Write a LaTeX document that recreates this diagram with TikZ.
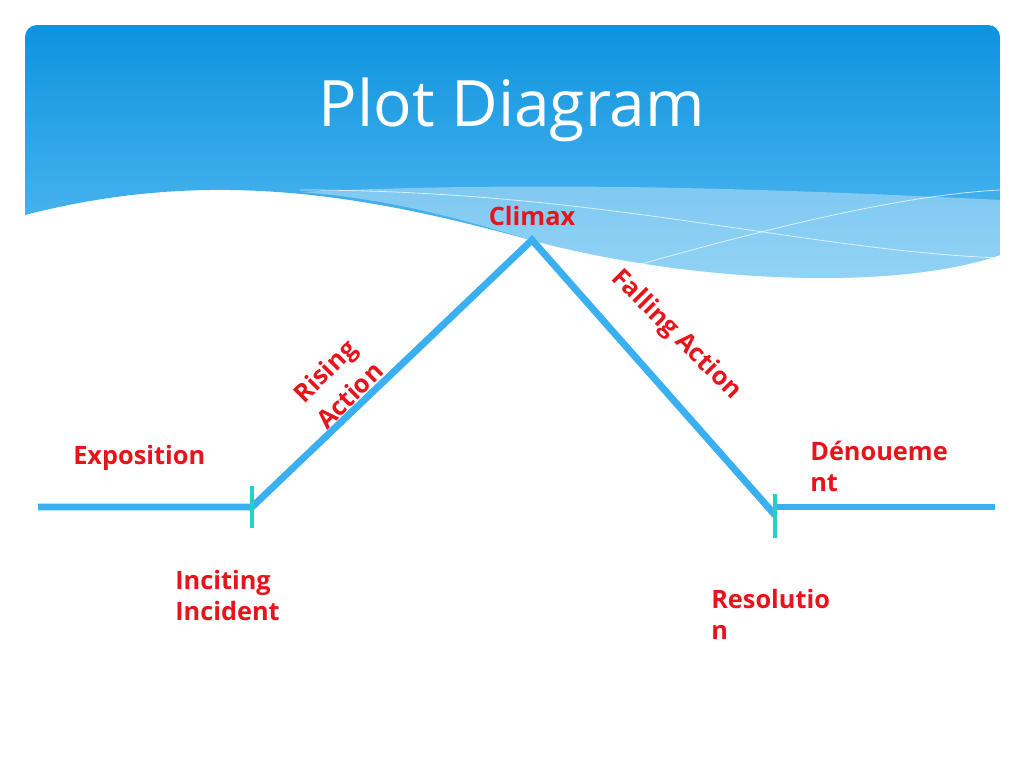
\documentclass[tikz,border=0pt]{standalone}
\usepackage{fontspec}
\setmainfont{Open Sans}
\usetikzlibrary{positioning}
\definecolor{plotblue}{HTML}{3BB0F0}
\definecolor{tickcyan}{HTML}{22D3C5}
\definecolor{headtop}{HTML}{0E93DF}
\definecolor{headbot}{HTML}{5BBDF2}
\definecolor{labelred}{HTML}{E8141B}
\tikzset{
  lbl/.style={font=\bfseries\fontsize{19}{23}\selectfont,text=labelred,align=left,inner sep=0pt},
  plotline/.style={plotblue,line width=5.2pt},
  tick/.style={tickcyan,line width=2.4pt}
}
\begin{document}
\begin{tikzpicture}[x=0.75pt,y=-0.75pt]
       \useasboundingbox (0,0) rectangle (1024,768);
       \fill[white] (0,0) rectangle (1024,768);

       % header band
       \shade[top color=headtop,bottom color=headbot]
         (25,215) -- (25,37) arc (180:270:12) -- (988,25) arc (270:360:12) -- (1000,255)
         .. controls (900,290) and (700,285) .. (530,240)
         .. controls (350,190) and (200,170) .. (25,215) -- cycle;
       \fill[white,opacity=0.35] (300,192) .. controls (550,180) and (800,190) .. (1000,200)
         -- (1000,255) .. controls (900,290) and (700,285) .. (530,240)
         .. controls (450,215) and (380,198) .. (300,192) -- cycle;
       \draw[white,opacity=0.7,line width=0.6pt] (300,190) .. controls (600,190) and (800,250) .. (1000,258);
       \draw[white,opacity=0.7,line width=0.6pt] (620,270) .. controls (760,230) and (900,195) .. (1000,190);
       \node[text=white,font=\fontsize{48}{56}\selectfont] (title) at (512,110) {Plot Diagram};

       % plot line
       \coordinate (start) at (38,507);
       \coordinate (incite) at (252,507);
       \coordinate (peak) at (532,240);
       \coordinate (resol) at (775,515);
       \coordinate (flat) at (775,507);
       \coordinate (finish) at (995,507);
       \draw[plotline,line join=miter] (start) -- (incite) -- (peak) -- (resol);
       \draw[plotline] (flat) -- (finish);
       \draw[tick] (252,486) -- (252,528);
       \draw[tick] (775,494) -- (775,538);

       % labels
       \node[lbl] (climax) at (532,216) {Climax};
       \node[lbl,rotate=45,align=center,font=\bfseries\fontsize{19}{26}\selectfont] (rising) at (337,383) {Rising\\Action};
       \node[lbl,rotate=-45] (falling) at (676,335) {Falling Action};
       \node[lbl,anchor=west] (expo) at (73,458) {Exposition};
       \node[lbl,anchor=north west] (denoue) at (810,441) {Dénoueme\\nt};
       \node[lbl,anchor=north west] (inciting) at (175,570) {Inciting\\Incident};
       \node[lbl,anchor=north west] (resolution) at (711,589) {Resolutio\\n};
\end{tikzpicture}
\end{document}
